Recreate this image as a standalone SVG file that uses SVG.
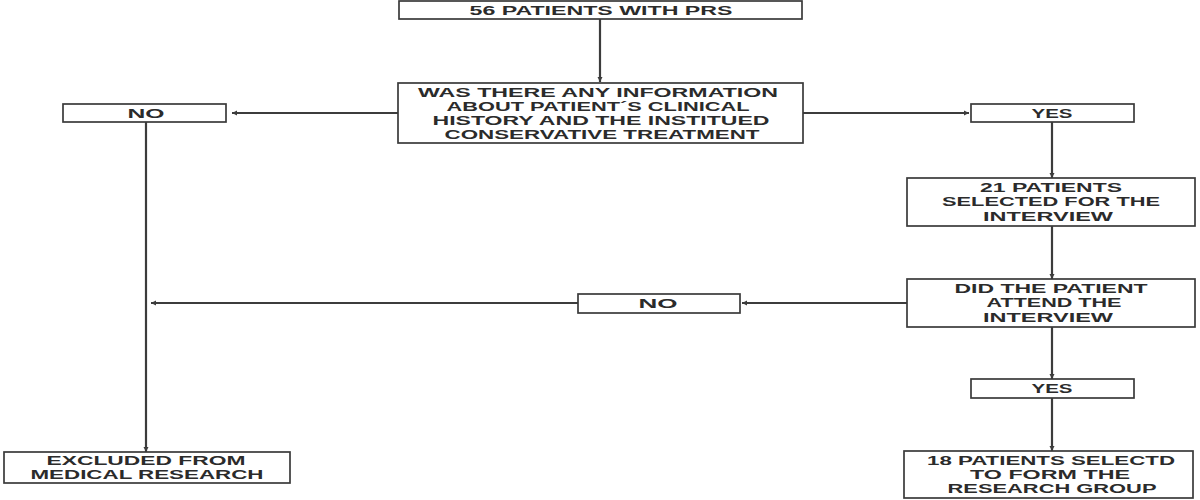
<svg xmlns="http://www.w3.org/2000/svg" width="1200" height="500" viewBox="0 0 1200 500">
<style>
.box{fill:#fff;stroke:#3a3a3a;stroke-width:1.7}
.t{font-family:"Liberation Sans",Arial,sans-serif;font-weight:bold;font-size:13px;fill:#2b2b2b;text-anchor:middle;dominant-baseline:central}
.c{stroke:#3c3c3c;stroke-width:2.2;fill:none;marker-end:url(#ah)}
</style>
<defs>
<marker id="ah" markerUnits="userSpaceOnUse" markerWidth="6" markerHeight="6" refX="5" refY="3" orient="auto">
<path d="M0,0.5 L5,3 L0,5.5 Z" fill="#3c3c3c"/>
</marker>
</defs>
<rect width="1200" height="500" fill="#fff"/>
<g id="connectors">
<line class="c" x1="600" y1="19" x2="600" y2="82"/>
<line class="c" x1="398" y1="113" x2="232" y2="113"/>
<line class="c" x1="803" y1="113" x2="969" y2="113"/>
<line class="c" x1="1052" y1="122" x2="1052" y2="178"/>
<line class="c" x1="1052" y1="226" x2="1052" y2="279"/>
<line class="c" x1="1052" y1="327" x2="1052" y2="379"/>
<line class="c" x1="1052" y1="398" x2="1052" y2="451"/>
<line class="c" x1="907" y1="303" x2="742" y2="303"/>
<line class="c" x1="578" y1="303" x2="151" y2="303"/>
<line class="c" x1="146" y1="122" x2="146" y2="452"/>
</g>
<g id="n-start">
<rect class="box" x="399" y="1" width="403" height="18"/>
<text class="t" x="601" y="10.5" textLength="263" lengthAdjust="spacingAndGlyphs">56 PATIENTS WITH PRS</text>
</g>
<g id="n-question">
<rect class="box" x="398" y="83" width="405" height="60"/>
<text class="t" x="598" y="92" textLength="360" lengthAdjust="spacingAndGlyphs">WAS THERE ANY INFORMATION</text>
<text class="t" x="598" y="106" textLength="303" lengthAdjust="spacingAndGlyphs">ABOUT PATIENT´S CLINICAL</text>
<text class="t" x="601" y="120" textLength="337" lengthAdjust="spacingAndGlyphs">HISTORY AND THE INSTITUED</text>
<text class="t" x="602" y="134" textLength="315" lengthAdjust="spacingAndGlyphs">CONSERVATIVE TREATMENT</text>
</g>
<g id="n-no1">
<rect class="box" x="63" y="104" width="163" height="18"/>
<text class="t" x="146" y="113" textLength="37" lengthAdjust="spacingAndGlyphs">NO</text>
</g>
<g id="n-yes1">
<rect class="box" x="971" y="104" width="163" height="18"/>
<text class="t" x="1052" y="113" textLength="41" lengthAdjust="spacingAndGlyphs">YES</text>
</g>
<g id="n-selected">
<rect class="box" x="907" y="178" width="288" height="48"/>
<text class="t" x="1051" y="187" textLength="142" lengthAdjust="spacingAndGlyphs">21 PATIENTS</text>
<text class="t" x="1051" y="201" textLength="218" lengthAdjust="spacingAndGlyphs">SELECTED FOR THE</text>
<text class="t" x="1048" y="216" textLength="130" lengthAdjust="spacingAndGlyphs">INTERVIEW</text>
</g>
<g id="n-attend">
<rect class="box" x="907" y="279" width="288" height="48"/>
<text class="t" x="1051" y="288" textLength="193" lengthAdjust="spacingAndGlyphs">DID THE PATIENT</text>
<text class="t" x="1054" y="302" textLength="135" lengthAdjust="spacingAndGlyphs">ATTEND THE</text>
<text class="t" x="1048" y="317" textLength="130" lengthAdjust="spacingAndGlyphs">INTERVIEW</text>
</g>
<g id="n-no2">
<rect class="box" x="578" y="294" width="162" height="19"/>
<text class="t" x="658" y="303.5" textLength="39" lengthAdjust="spacingAndGlyphs">NO</text>
</g>
<g id="n-yes2">
<rect class="box" x="971" y="379" width="163" height="19"/>
<text class="t" x="1052" y="388.5" textLength="41" lengthAdjust="spacingAndGlyphs">YES</text>
</g>
<g id="n-group">
<rect class="box" x="904" y="451" width="289" height="47"/>
<text class="t" x="1051" y="460" textLength="248" lengthAdjust="spacingAndGlyphs">18 PATIENTS SELECTD</text>
<text class="t" x="1050" y="474" textLength="160" lengthAdjust="spacingAndGlyphs">TO FORM THE</text>
<text class="t" x="1052" y="488" textLength="209" lengthAdjust="spacingAndGlyphs">RESEARCH GROUP</text>
</g>
<g id="n-excluded">
<rect class="box" x="4" y="452" width="286" height="31"/>
<text class="t" x="146" y="460.5" textLength="199" lengthAdjust="spacingAndGlyphs">EXCLUDED FROM</text>
<text class="t" x="147" y="474.5" textLength="233" lengthAdjust="spacingAndGlyphs">MEDICAL RESEARCH</text>
</g>
</svg>
